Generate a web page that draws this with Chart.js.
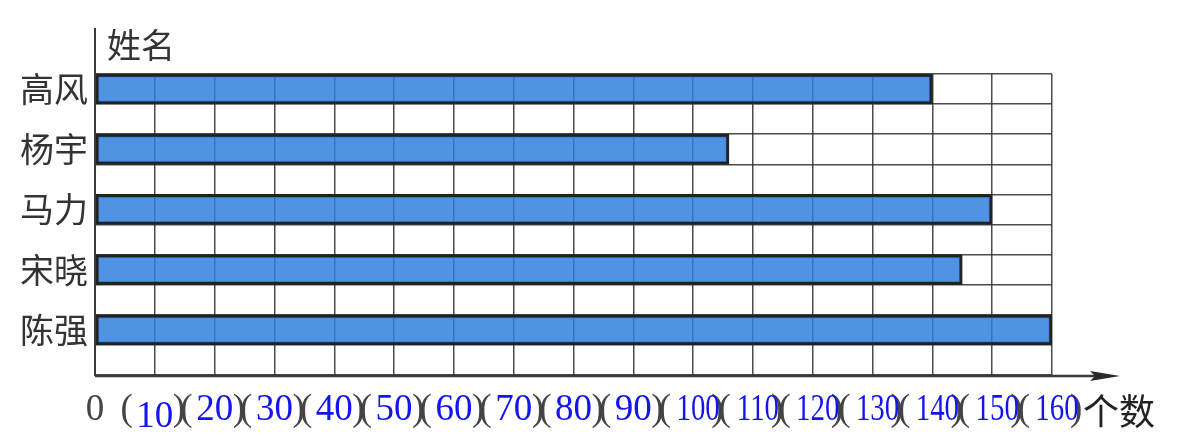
<!DOCTYPE html>
<html lang="zh">
<head>
<meta charset="utf-8"/>
<title>姓名 / 个数</title>
<script src="https://cdn.jsdelivr.net/npm/chart.js@4.4.3/dist/chart.umd.min.js"></script>
<style>
  html, body { margin: 0; padding: 0; background: #fff; }
  canvas { display: block; }
</style>
</head>
<body>
<canvas id="chart" width="1184" height="437"></canvas>
<script>
// data
const names = ['高风', '杨宇', '马力', '宋晓', '陈强'];
const counts = [140, 106, 150, 145, 160];
const xMin = 0;
const xMax = 160;
const xStep = 10;
const yTitle = '姓名';
const xTitle = '个数';

// every name gets a bar row followed by an empty grid row
const rowLabels = names.flatMap((n) => [n, '']);
const rowValues = counts.flatMap((c) => [c, null]);

const CJK = '"Noto Sans CJK SC", "Noto Sans", sans-serif';
const SERIF = '"Liberation Serif", "DejaVu Serif", serif';
const GRID = 'rgba(45,45,45,0.85)';

// axis lines with arrow, axis titles and the "(  )" tick labels
const axisDecor = {
  id: 'axisDecor',
  afterDraw(chart) {
    const { ctx, chartArea: a, scales: { x } } = chart;
    ctx.save();
    ctx.strokeStyle = '#3a3a3a';
    ctx.fillStyle = '#2a2a2a';
    ctx.lineWidth = 2;
    ctx.beginPath();
    ctx.moveTo(a.left, a.bottom + 1);
    ctx.lineTo(a.left, a.top - 46);
    ctx.stroke();
    const ay = a.bottom + 1;
    ctx.lineWidth = 2.5;
    ctx.beginPath();
    ctx.moveTo(a.left, ay);
    ctx.lineTo(a.right + 50, ay);
    ctx.stroke();
    const tip = a.right + 68;
    ctx.beginPath();
    ctx.moveTo(tip, ay);
    ctx.lineTo(tip - 30, ay - 5);
    ctx.lineTo(tip - 25, ay);
    ctx.lineTo(tip - 30, ay + 5);
    ctx.closePath();
    ctx.fill();

    ctx.fillStyle = '#333';
    ctx.font = '34px ' + CJK;
    ctx.textAlign = 'left';
    ctx.textBaseline = 'middle';
    ctx.fillText(yTitle, a.left + 12, a.top - 29);
    ctx.fillStyle = '#222';
    ctx.font = '36px ' + CJK;
    ctx.fillText(xTitle, a.right + 31, ay + 35);

    const base = ay + 44;
    ctx.textBaseline = 'alphabetic';
    ctx.font = '37px ' + SERIF;
    x.ticks.forEach((t) => {
      const v = t.value;
      const px = x.getPixelForValue(v);
      if (v === 0) {
        ctx.fillStyle = '#444';
        ctx.textAlign = 'center';
        ctx.fillText('0', px, base);
        return;
      }
      ctx.fillStyle = '#444';
      ctx.textAlign = 'right';
      ctx.fillText('(', px - 22, base);
      ctx.textAlign = 'left';
      ctx.fillText(')', px + 18, base);
      ctx.fillStyle = '#1414f0';
      ctx.textAlign = 'center';
      const s = String(v);
      if (s.length > 2) {
        ctx.save();
        ctx.translate(px + 5, base);
        ctx.scale(0.78, 1);
        ctx.fillText(s, 0, 0);
        ctx.restore();
      } else {
        ctx.fillText(s, px, base + (v === xStep ? 7 : 0));
      }
    });
    ctx.restore();
  }
};

new Chart(document.getElementById('chart'), {
  type: 'bar',
  data: {
    labels: rowLabels,
    datasets: [{
      data: rowValues,
      backgroundColor: 'rgba(49,128,222,0.85)',
      borderColor: '#222',
      borderWidth: 3,
      borderSkipped: false,
      barPercentage: 1,
      categoryPercentage: 1
    }]
  },
  options: {
    indexAxis: 'y',
    responsive: false,
    animation: false,
    layout: { padding: { top: 74, right: 132, left: 0, bottom: 0 } },
    plugins: { legend: { display: false }, tooltip: { enabled: false } },
    scales: {
      x: {
        type: 'linear',
        min: xMin,
        max: xMax,
        ticks: { stepSize: xStep, display: false },
        grid: { color: GRID, lineWidth: 1.5, drawTicks: false },
        border: { display: false },
        afterFit: (s) => { s.height = 62; }
      },
      y: {
        ticks: { color: '#333', font: { family: CJK, size: 34 }, padding: 7, autoSkip: false },
        grid: { color: GRID, lineWidth: 1.5, drawTicks: false, offset: true },
        border: { display: false },
        afterFit: (s) => { s.width = 95; }
      }
    }
  },
  plugins: [axisDecor]
});
</script>
</body>
</html>
